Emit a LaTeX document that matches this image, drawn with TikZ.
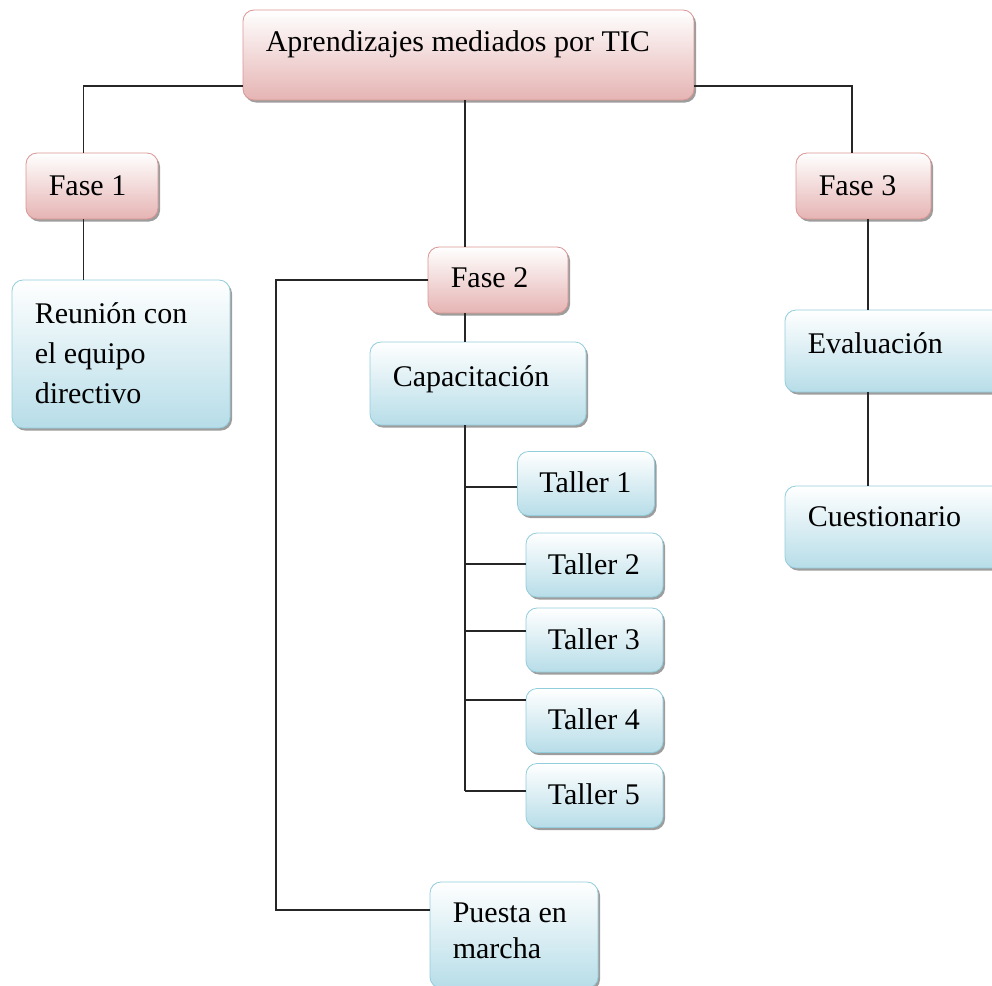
\documentclass[tikz,border=0pt]{standalone}
\usepackage{fontspec}
\setmainfont{Liberation Serif}
\usetikzlibrary{shadows}
\definecolor{rosaborde}{RGB}{217,150,148}
\definecolor{rosafondo}{RGB}{229,180,179}
\definecolor{azulborde}{RGB}{146,205,220}
\definecolor{azulfondo}{RGB}{183,221,232}
\tikzset{
  caja/.style={rounded corners=11pt, inner sep=0pt, line width=0.8pt, top color=white,
    drop shadow={shadow xshift=2pt, shadow yshift=-2.5pt, fill=black!55, opacity=.7}},
  fase/.style={caja, draw=rosaborde, bottom color=rosafondo},
  tarea/.style={caja, draw=azulborde, bottom color=azulfondo},
  texto/.style={anchor=north west, inner sep=0pt, align=left, xshift=23pt, yshift=-14pt,
    font=\fontsize{30}{38}\selectfont, execute at begin node=\strut},
  linea/.style={line width=1.3pt, black!85}
}
\begin{document}
\begin{tikzpicture}[x=1pt, y=-1pt]
                    \useasboundingbox (0,0) rectangle (992,985);
                    \node[fase, minimum width=451pt, minimum height=90pt, label={[texto, yshift=-1pt]north west:Aprendizajes mediados por TIC}] (tic) at (468.5,55) {};
                    \node[fase, minimum width=132pt, minimum height=66pt, label={[texto, yshift=-2pt]north west:Fase 1}] (f1) at (92,186) {};
                    \node[fase, minimum width=140pt, minimum height=66pt, label={[texto]north west:Fase 2}] (f2) at (498,280) {};
                    \node[fase, minimum width=135pt, minimum height=66pt, label={[texto, yshift=-2pt]north west:Fase 3}] (f3) at (863.5,186) {};
                    \node[tarea, minimum width=218pt, minimum height=148pt, label={[texto, yshift=-9pt, font=\fontsize{30}{40}\selectfont]north west:{Reunión con\\el equipo\\directivo}}] (reu) at (121,354) {};
                    \node[tarea, minimum width=216pt, minimum height=83pt, label={[texto, yshift=-4pt]north west:Capacitación}] (cap) at (478,383.5) {};
                    \foreach \n/\x/\y in {1/586/483.5, 2/594.5/565, 3/594.5/640, 4/594.5/720.5, 5/594.5/795.5}
                      \node[tarea, minimum width=137pt, minimum height=64pt, label={[texto, xshift=-1pt, yshift=-1pt]north west:Taller \n}] (t\n) at (\x,\y) {};
                    \node[tarea, minimum width=168pt, minimum height=106pt, label={[texto, yshift=-7pt, font=\fontsize{30}{36}\selectfont]north west:{Puesta en\\marcha}}] (pm) at (514,935) {};
                    \node[tarea, minimum width=230pt, minimum height=82pt, label={[texto, yshift=-3pt]north west:Evaluación}] (ev) at (900,351) {};
                    \node[tarea, minimum width=230pt, minimum height=82pt, label={[texto]north west:Cuestionario}] (cu) at (900,527) {};
                    \draw[linea] (tic.west |- 0,86) -| (f1.north -| 83.5,0);
                    \draw[linea] (tic.east |- 0,86) -| (f3.north -| 852,0);
                    \draw[linea] (tic.south -| 465,0) -- (f2.north -| 465,0);
                    \draw[linea] (f1.south -| 83.5,0) -- (reu.north -| 83.5,0);
                    \draw[linea] (f2.south -| 465,0) -- (cap.north -| 465,0);
                    \draw[linea] (f2.west) -| (276,910) -- (pm.west |- 0,910);
                    \draw[linea] (cap.south -| 465,0) -- (465,791);
                    \foreach \n/\y in {1/487, 2/564, 3/631, 4/700, 5/791}
                      \draw[linea] (465,\y) -- (t\n.west |- 0,\y);
                    \draw[linea] (f3.south -| 868,0) -- (ev.north -| 868,0);
                    \draw[linea] (ev.south -| 868,0) -- (cu.north -| 868,0);
                \end{tikzpicture}
\end{document}
